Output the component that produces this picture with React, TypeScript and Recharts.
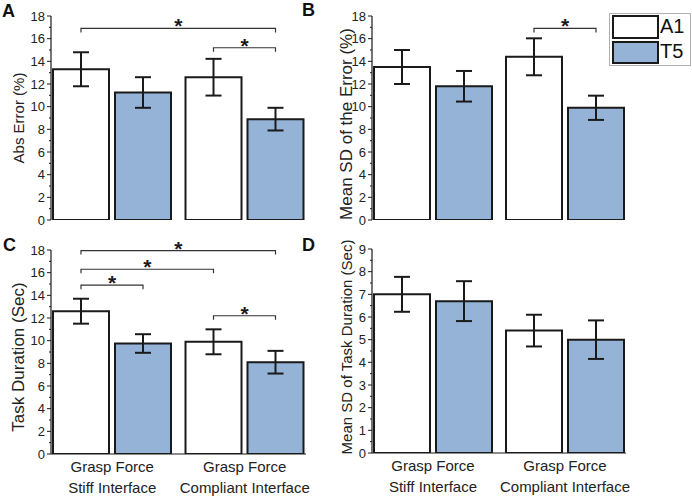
import { Bar, BarChart, ErrorBar, ReferenceLine, XAxis, YAxis } from "recharts";

const groups = ["Stiff Interface", "Compliant Interface"];
const forceLabel = "Grasp Force";
const seriesNames = ["A1", "T5"];

// A: absolute error (%)
const absErrA1 = [13.3, 12.6];
const absErrA1Sd = [1.5, 1.62];
const absErrT5 = [11.25, 8.9];
const absErrT5Sd = [1.35, 1.0];

// B: mean SD of the error (%)
const sdErrA1 = [13.5, 14.4];
const sdErrA1Sd = [1.5, 1.63];
const sdErrT5 = [11.8, 9.9];
const sdErrT5Sd = [1.35, 1.07];

// C: task duration (sec)
const durA1 = [12.6, 9.9];
const durA1Sd = [1.1, 1.1];
const durT5 = [9.75, 8.1];
const durT5Sd = [0.82, 1.0];

// D: mean SD of task duration (sec)
const sdDurA1 = [7.0, 5.4];
const sdDurA1Sd = [0.77, 0.7];
const sdDurT5 = [6.7, 5.0];
const sdDurT5Sd = [0.88, 0.85];

const ticksPct = [0, 2, 4, 6, 8, 10, 12, 14, 16, 18];
const ticksSec = [0, 1, 2, 3, 4, 5, 6, 7, 8, 9];

// significance brackets: [group, series] -> [group, series], at a y level
type Sig = { from: [number, number]; to: [number, number]; level: number };
const sigA: Sig[] = [
  { from: [0, 0], to: [1, 1], level: 16.9 },
  { from: [1, 0], to: [1, 1], level: 15.2 },
];
const sigB: Sig[] = [{ from: [1, 0], to: [1, 1], level: 16.9 }];
const sigC: Sig[] = [
  { from: [0, 0], to: [1, 1], level: 17.95 },
  { from: [0, 0], to: [1, 0], level: 16.3 },
  { from: [0, 0], to: [0, 1], level: 14.9 },
  { from: [1, 0], to: [1, 1], level: 12.2 },
];

const FONT = "'Liberation Sans', Arial, sans-serif";
const INK = "#1a1a1a";
const BLUE = "#95b3d7";
const BAR_SIZE = 56;
const BAR_GAP = 6;
const PAD = 5; // bands reach a little past the axis ends

function rows(a1: number[], a1Sd: number[], t5: number[], t5Sd: number[]) {
  return groups.map((g, i) => ({ group: g, a1: a1[i], a1Err: a1Sd[i], t5: t5[i], t5Err: t5Sd[i] }));
}

function midTicks(majors: number[]) {
  const out: number[] = [];
  majors.forEach((v, i) => {
    out.push(v);
    if (i < majors.length - 1) out.push((v + majors[i + 1]) / 2);
  });
  return out;
}

const YTick = (props: any) => {
  const { x, y, payload, majors } = props;
  const major = majors.includes(payload.value);
  return (
    <g>
      <line x1={x - (major ? 4 : 2)} x2={x} y1={y} y2={y} stroke={INK} strokeWidth={1} />
      {major && (
        <text x={x - 6} y={y} dy="0.36em" textAnchor="end" fontSize={13} fontFamily={FONT} fill="#222">
          {payload.value}
        </text>
      )}
    </g>
  );
};

const XTick = (props: any) => {
  const { x, y, payload } = props;
  return (
    <g fontFamily={FONT} fontSize={15} fill="#222" textAnchor="middle">
      <text x={x} y={y + 18}>{forceLabel}</text>
      <text x={x} y={y + 39}>{payload.value}</text>
    </g>
  );
};

const bracketShape = (p: any) => (
  <g>
    <path
      d={`M${p.x1},${p.y1 + 4}V${p.y1}H${p.x2}V${p.y2 + 4}`}
      fill="none"
      stroke="#333"
      strokeWidth={1.2}
    />
    <text x={(p.x1 + p.x2) / 2} y={p.y1 + 5} textAnchor="middle" fontSize={21} fontWeight="bold" fontFamily={FONT} fill={INK}>
      *
    </text>
  </g>
);

type PanelProps = {
  data: ReturnType<typeof rows>;
  majors: number[];
  yLabel: string;
  labelSize: number;
  labelX: number;
  labelDy: number;
  sigs: Sig[];
  showCats: boolean;
  left: number;
  top: number;
  width: number;
  height: number;
  margin: { top: number; right: number; bottom: number; left: number };
  yAxisWidth: number;
  xAxisHeight: number;
};

function Panel(p: PanelProps) {
  const yMax = p.majors[p.majors.length - 1];
  const rangeW = p.width - p.margin.left - p.margin.right - p.yAxisWidth + 2 * PAD;
  const band = rangeW / groups.length;
  const start = Math.floor((band - (2 * BAR_SIZE + BAR_GAP)) / 2);
  // bar centre as a fraction of the whole range, for the hidden 0..1 axis of the brackets
  const centre = ([g, s]: [number, number]) =>
    (g * band + start + s * (BAR_SIZE + BAR_GAP) + BAR_SIZE / 2) / rangeW;

  return (
    <div style={{ position: "absolute", left: p.left, top: p.top }}>
      <BarChart
        width={p.width}
        height={p.height}
        data={p.data}
        margin={p.margin}
        barGap={BAR_GAP}
        barSize={BAR_SIZE}
      >
        <XAxis
          dataKey="group"
          height={p.xAxisHeight}
          padding={{ left: -PAD, right: -PAD }}
          axisLine={{ stroke: INK, strokeWidth: 1.2 }}
          tickLine={false}
          tickSize={0}
          tickMargin={0}
          tick={p.showCats ? <XTick /> : false}
          interval={0}
        />
        <XAxis
          xAxisId="pos"
          type="number"
          scale="linear"
          domain={[0, 1]}
          padding={{ left: -PAD, right: -PAD }}
          allowDataOverflow
          hide
        />
        <YAxis
          width={p.yAxisWidth}
          domain={[0, yMax]}
          ticks={midTicks(p.majors)}
          interval={0}
          allowDataOverflow
          axisLine={{ stroke: INK, strokeWidth: 1.2 }}
          tickLine={false}
          tickSize={0}
          tickMargin={0}
          tick={<YTick majors={p.majors} />}
          label={(lp: any) => {
            const vb = lp.viewBox;
            const cy = vb.y + vb.height / 2 + p.labelDy;
            return (
              <text
                x={p.labelX}
                y={cy}
                transform={`rotate(-90 ${p.labelX} ${cy})`}
                textAnchor="middle"
                dominantBaseline="central"
                fontSize={p.labelSize}
                fontFamily={FONT}
                fill="#222"
              >
                {p.yLabel}
              </text>
            );
          }}
        />
        <Bar dataKey="a1" name={seriesNames[0]} fill="#ffffff" stroke={INK} strokeWidth={2} isAnimationActive={false}>
          <ErrorBar dataKey="a1Err" width={8} stroke={INK} strokeWidth={2} isAnimationActive={false} />
        </Bar>
        <Bar dataKey="t5" name={seriesNames[1]} fill={BLUE} stroke={INK} strokeWidth={2} isAnimationActive={false}>
          <ErrorBar dataKey="t5Err" width={8} stroke={INK} strokeWidth={2} isAnimationActive={false} />
        </Bar>
        {p.sigs.map((s, i) => (
          <ReferenceLine
            key={i}
            xAxisId="pos"
            ifOverflow="visible"
            segment={[
              { x: centre(s.from), y: s.level },
              { x: centre(s.to), y: s.level },
            ]}
            shape={bracketShape}
          />
        ))}
      </BarChart>
    </div>
  );
}

export default function App() {
  const letter = { fontSize: 18, fontWeight: "bold" as const, fontFamily: FONT, fill: "#111" };
  return (
    <div style={{ position: "absolute", left: 0, top: 0, width: 692, height: 496, background: "#fff", overflow: "hidden" }}>
      <Panel
        data={rows(absErrA1, absErrA1Sd, absErrT5, absErrT5Sd)}
        majors={ticksPct}
        yLabel="Abs Error (%)"
        labelSize={15}
        labelX={18}
        labelDy={0}
        sigs={sigA}
        showCats={false}
        left={0}
        top={0}
        width={346}
        height={248}
        margin={{ top: 16, right: 40, bottom: 28, left: 0 }}
        yAxisWidth={51}
        xAxisHeight={0}
      />
      <Panel
        data={rows(sdErrA1, sdErrA1Sd, sdErrT5, sdErrT5Sd)}
        majors={ticksPct}
        yLabel="Mean SD of the Error (%)"
        labelSize={17}
        labelX={16}
        labelDy={6}
        sigs={sigB}
        showCats={false}
        left={330}
        top={0}
        width={362}
        height={248}
        margin={{ top: 16, right: 66, bottom: 28, left: 0 }}
        yAxisWidth={42}
        xAxisHeight={0}
      />
      <Panel
        data={rows(durA1, durA1Sd, durT5, durT5Sd)}
        majors={ticksPct}
        yLabel="Task Duration (Sec)"
        labelSize={17}
        labelX={18}
        labelDy={5}
        sigs={sigC}
        showCats
        left={0}
        top={228}
        width={346}
        height={268}
        margin={{ top: 22, right: 40, bottom: 0, left: 0 }}
        yAxisWidth={51}
        xAxisHeight={42}
      />
      <Panel
        data={rows(sdDurA1, sdDurA1Sd, sdDurT5, sdDurT5Sd)}
        majors={ticksSec}
        yLabel="Mean SD of Task Duration (Sec)"
        labelSize={15}
        labelX={16}
        labelDy={-4}
        sigs={[]}
        showCats
        left={330}
        top={228}
        width={362}
        height={268}
        margin={{ top: 21, right: 66, bottom: 0, left: 0 }}
        yAxisWidth={42}
        xAxisHeight={43}
      />
      <svg width={692} height={496} style={{ position: "absolute", left: 0, top: 0, pointerEvents: "none" }}>
        <text x={2} y={17} {...letter}>A</text>
        <text x={302} y={16} {...letter}>B</text>
        <text x={3} y={251} {...letter}>C</text>
        <text x={302} y={251} {...letter}>D</text>
        <g transform="translate(609,13)">
          <rect x={0.5} y={0.5} width={81} height={52} fill="#fff" stroke="#b0b0b0" strokeWidth={1} />
          <rect x={4} y={3} width={45} height={22} fill="#fff" stroke={INK} strokeWidth={2} />
          <rect x={4} y={29} width={45} height={21} fill={BLUE} stroke={INK} strokeWidth={2} />
          <text x={51} y={20} fontSize={20} fontFamily={FONT} fill="#111">{seriesNames[0]}</text>
          <text x={51} y={45} fontSize={20} fontFamily={FONT} fill="#111">{seriesNames[1]}</text>
        </g>
      </svg>
    </div>
  );
}
